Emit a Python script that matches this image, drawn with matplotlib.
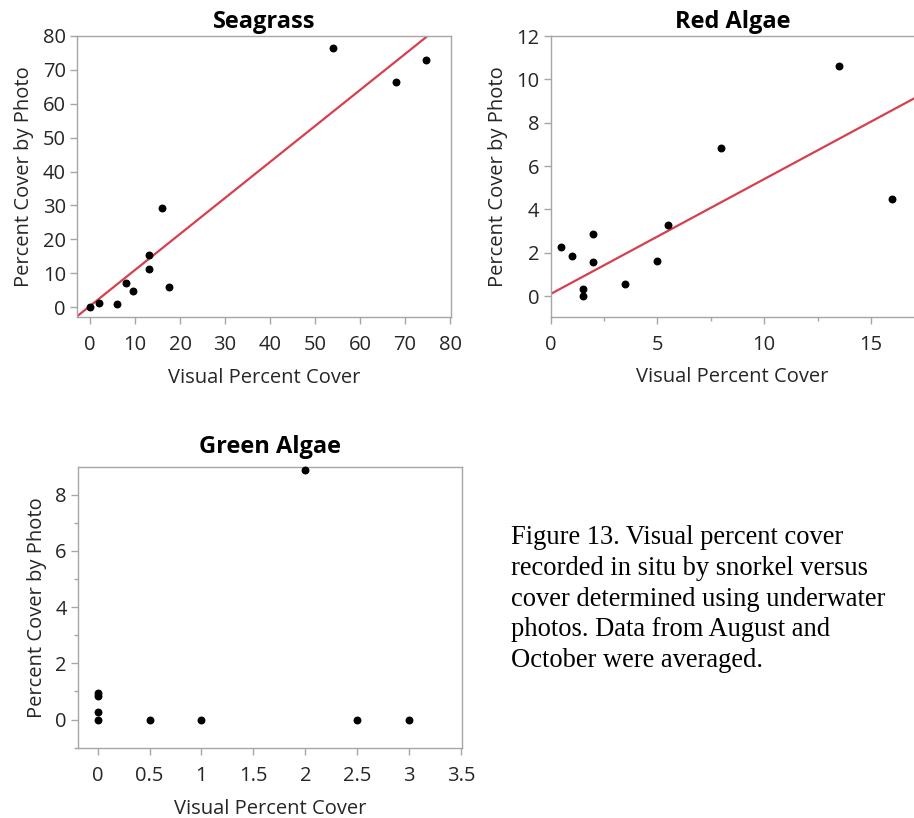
import numpy as np
import matplotlib.pyplot as plt
from matplotlib.ticker import MultipleLocator

plt.rcParams['font.family'] = ['Open Sans', 'DejaVu Sans']

# Seagrass: visual cover vs photo cover
sea_visual = [0, 2, 6, 8, 9.5, 13, 13, 16, 17.5, 54, 68, 74.6]
sea_photo = [0, 1.2, 0.8, 7.0, 4.9, 15.4, 11.2, 29.2, 5.9, 76.4, 66.3, 72.9]
sea_fit = (0.35, 1.062)  # intercept, slope

# Red algae
red_visual = [0.5, 1.0, 1.5, 1.5, 2.0, 2.0, 3.5, 5.0, 5.5, 8.0, 13.5, 16.0]
red_photo = [2.25, 1.85, 0.32, 0.02, 2.85, 1.57, 0.57, 1.63, 3.3, 6.85, 10.6, 4.46]
red_fit = (0.1, 0.53)

# Green algae
green_visual = [0, 0, 0, 0, 0.5, 1.0, 2.0, 2.5, 3.0]
green_photo = [0, 0.28, 0.85, 0.95, 0, 0, 8.88, 0, 0]

caption = ("Figure 13. Visual percent cover\n"
           "recorded in situ by snorkel versus\n"
           "cover determined using underwater\n"
           "photos. Data from August and\n"
           "October were averaged.")

SPINE = '#a6a6a6'
TEXT = '#262626'
LINE = '#d6404e'


def style_axes(ax, title, title_pad=6):
    for s in ax.spines.values():
        s.set_color(SPINE)
        s.set_linewidth(1.0)
    ax.tick_params(which='both', direction='out', color=SPINE, labelcolor=TEXT,
                   labelsize=14.5, length=5, width=1.0, pad=3)
    ax.tick_params(axis='x', pad=8)
    ax.tick_params(which='minor', length=3)
    ax.set_title(title, fontsize=17, fontweight='bold', color='black', pad=title_pad)
    ax.set_xlabel('Visual Percent Cover', fontsize=14.5, color=TEXT, labelpad=9)
    ax.set_ylabel('Percent Cover by Photo', fontsize=14.5, color=TEXT, labelpad=6)


def fit_line(ax, coef, xlim):
    intercept, slope = coef
    xs = np.array(xlim)
    ax.plot(xs, intercept + slope * xs, color=LINE, lw=1.6, zorder=2)


fig = plt.figure(figsize=(9.14, 8.18), dpi=100)

# Seagrass panel
ax1 = fig.add_axes([0.0842, 0.6125, 0.4092, 0.3435])
ax1.set_xlim(-2.9, 80.2)
ax1.set_ylim(-2.9, 80)
fit_line(ax1, sea_fit, (-2.9, 80.2))
ax1.scatter(sea_visual, sea_photo, s=22, color='black', zorder=3)
ax1.set_xticks(np.arange(0, 81, 10))
ax1.set_yticks(np.arange(0, 81, 10))
style_axes(ax1, 'Seagrass')

# Red algae panel
ax2 = fig.add_axes([0.6025, 0.6128, 0.3975, 0.3431])
ax2.set_xlim(0, 17.02)
ax2.set_ylim(-0.95, 12)
fit_line(ax2, red_fit, (0, 17.02))
ax2.scatter(red_visual, red_photo, s=22, color='black', zorder=3)
ax2.set_xticks([0, 5, 10, 15])
ax2.xaxis.set_minor_locator(MultipleLocator(2.5))
ax2.set_yticks(np.arange(0, 13, 2))
style_axes(ax2, 'Red Algae')
ax2.spines['right'].set_visible(False)

# Green algae panel
ax3 = fig.add_axes([0.0853, 0.0852, 0.4198, 0.3435])
ax3.set_xlim(-0.19, 3.507)
ax3.set_ylim(-1.02, 8.97)
ax3.scatter(green_visual, green_photo, s=22, color='black', zorder=3, clip_on=False)
ax3.set_xticks(np.arange(0, 3.6, 0.5))
ax3.set_xticklabels(['0', '0.5', '1', '1.5', '2', '2.5', '3', '3.5'])
ax3.set_yticks([0, 2, 4, 6, 8])
ax3.yaxis.set_minor_locator(MultipleLocator(1))
style_axes(ax3, 'Green Algae', title_pad=10)

fig.text(0.559, 0.358, caption, family=['Liberation Serif'], fontsize=19.1,
         color='black', va='top', ha='left', linespacing=1.3)

fig.savefig('out.png', dpi=100)
